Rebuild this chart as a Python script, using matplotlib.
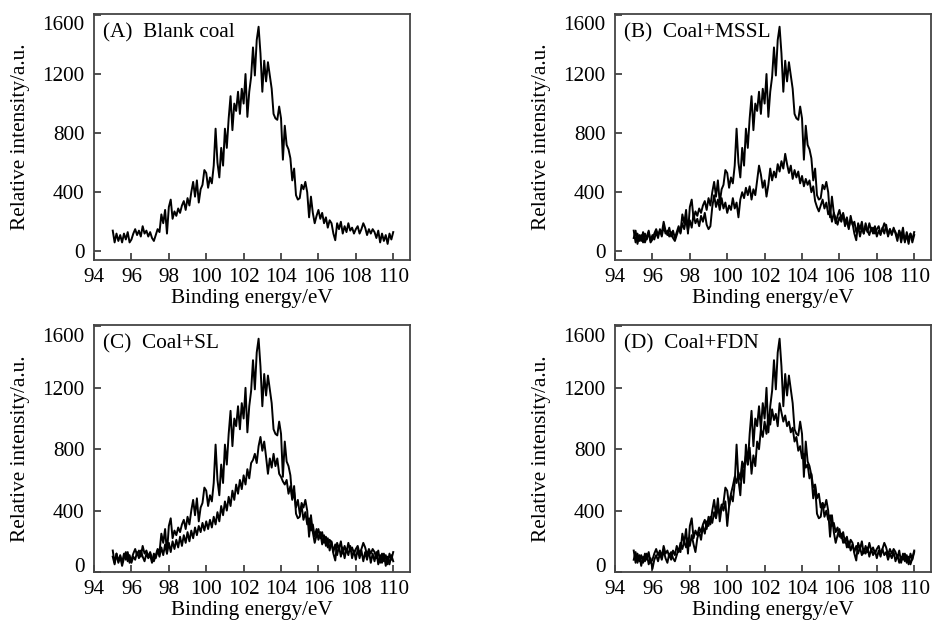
import numpy as np
import matplotlib
matplotlib.use("Agg")
import matplotlib.pyplot as plt
import matplotlib.transforms as mtransforms

plt.rcParams["font.family"] = ["Liberation Serif", "DejaVu Serif"]

# binding energy grid (eV), 0.1 eV step from 95.0 to 110.0
energy = np.round(np.arange(950, 1101) / 10.0, 1)

# 1. blank coal (appears in every panel)
blank_coal = [
    140, 60, 120, 70, 110, 60, 120, 80, 130, 60,
    80, 120, 150, 110, 140, 100, 170, 120, 140, 100,
    130, 90, 70, 110, 150, 130, 250, 190, 280, 120,
    300, 350, 220, 270, 240, 290, 260, 310, 340, 280,
    360, 310, 400, 470, 370, 480, 330, 420, 450, 550,
    530, 430, 500, 460, 580, 830, 600, 500, 700, 580,
    830, 700, 900, 1050, 820, 1000, 950, 1080, 930, 1100,
    1000, 1200, 910, 1080, 1180, 1380, 1190, 1430, 1520, 1340,
    1080, 1290, 1150, 1280, 1190, 1100, 930, 900, 890, 980,
    900, 620, 850, 720, 690, 630, 480, 560, 380, 350,
    360, 450, 420, 470, 400, 230, 370, 260, 190, 240,
    280, 220, 260, 190, 230, 160, 210, 190, 120, 75,
    190, 150, 200, 120, 170, 130, 190, 140, 160, 120,
    150, 170, 120, 150, 190, 160, 110, 150, 120, 150,
    130, 90, 140, 60, 120, 70, 110, 50, 120, 80,
    130,
]

# 2. coal + MSSL
coal_mssl = [
    90, 140, 50, 110, 70, 130, 60, 100, 140, 70,
    110, 80, 130, 90, 150, 120, 200, 140, 110, 160,
    100, 140, 90, 130, 170, 120, 190, 150, 220, 140,
    210, 160, 250, 190, 220, 170, 240, 200, 260, 180,
    150, 170, 300, 380, 300, 350, 280, 360, 290, 330,
    260, 310, 280, 360, 290, 330, 230, 350, 400, 360,
    430, 380, 440, 350, 420, 380, 480, 580, 520, 430,
    480, 370, 450, 560, 480, 540, 500, 590, 540, 610,
    560, 660, 590, 530, 580, 490, 550, 500, 540, 460,
    510, 440, 490, 450, 480, 400, 440, 340, 300, 270,
    310, 350, 290, 330, 250, 280, 200, 260, 220, 180,
    230, 200, 250, 170, 210, 150, 240, 180, 200, 130,
    170, 100, 160, 120, 190, 140, 110, 160, 120, 170,
    100, 140, 110, 160, 120, 180, 100, 150, 110, 160,
    120, 70, 140, 100, 160, 60, 130, 80, 120, 60,
    110,
]

# 3. coal + SL
coal_sl = [
    100, 50, 120, 60, 100, 40, 90, 130, 70, 110,
    60, 100, 80, 130, 90, 140, 100, 70, 120, 90,
    110, 60, 120, 90, 140, 100, 160, 110, 180, 120,
    190, 130, 200, 150, 210, 160, 230, 170, 240, 190,
    260, 200, 270, 220, 290, 240, 300, 260, 320, 270,
    330, 280, 340, 290, 360, 310, 390, 330, 430, 370,
    460, 400, 490, 430, 530, 470, 570, 510, 600, 540,
    630, 570, 670, 610, 710, 730, 770, 710, 820, 880,
    790, 850, 750, 640, 740, 680, 770, 690, 740, 640,
    620, 590, 570, 600, 510, 560, 470, 520, 420, 470,
    380, 430, 340, 390, 310, 350, 270, 310, 230, 280,
    210, 260, 180, 240, 170, 220, 140, 200, 130, 180,
    110, 170, 100, 160, 90, 150, 110, 170, 90, 140,
    80, 150, 90, 140, 70, 130, 80, 140, 60, 120,
    70, 130, 50, 110, 60, 120, 40, 100, 50, 110,
    70,
]

# 4. coal + FDN
coal_fdn = [
    80, 130, 60, 110, 40, 100, 70, 120, 50, 90,
    20, 80, 110, 70, 120, 80, 140, 90, 60, 120,
    80, 140, 110, 170, 130, 190, 150, 200, 160, 220,
    170, 240, 180, 130, 220, 260, 210, 300, 250, 330,
    300, 360, 320, 390, 350, 420, 380, 440, 400, 460,
    300, 430, 510, 560, 620, 580, 650, 600, 720, 680,
    760, 700, 810, 640, 760, 690, 850, 800, 930, 880,
    980, 900, 1020, 960, 1060, 990, 1030, 950, 1100, 1040,
    980, 1020, 950, 980, 910, 940, 850, 880, 790, 820,
    740, 770, 680, 700, 610, 640, 550, 570, 480, 510,
    420, 450, 360, 400, 340, 370, 300, 320, 260, 290,
    230, 250, 190, 220, 160, 200, 140, 180, 130, 170,
    120, 160, 110, 150, 120, 160, 100, 150, 110, 140,
    90, 140, 100, 150, 110, 130, 80, 120, 90, 130,
    70, 110, 60, 100, 80, 120, 60, 100, 50, 90,
    140,
]

panels = [
    ("(A)  Blank coal", [blank_coal], [0.1008, 0.5833, 0.3387, 0.3942], (-59, 1606)),
    ("(B)  Coal+MSSL", [blank_coal, coal_mssl], [0.6592, 0.5833, 0.3387, 0.3942], (-59, 1606)),
    ("(C)  Coal+SL", [blank_coal, coal_sl], [0.1008, 0.0833, 0.3387, 0.3958], (0, 1609)),
    ("(D)  Coal+FDN", [blank_coal, coal_fdn], [0.6592, 0.0833, 0.3387, 0.3958], (0, 1609)),
]

fs = 15.3
fig = plt.figure(figsize=(9.33, 6.24), dpi=100)

for label, series, rect, ylim in panels:
    ax = fig.add_axes(rect)
    for s in series:
        ax.plot(energy, s, color="black", lw=1.4)
    ax.set_xlim(94, 110.9)
    ax.set_ylim(*ylim)
    ax.set_xticks(np.arange(94, 111, 2))
    ax.set_yticks([0, 400, 800, 1200, 1600])
    ax.tick_params(direction="in", length=5, width=1.2, labelsize=fs,
                   top=False, right=False, color="#333333")
    ax.tick_params(axis="x", pad=6)
    ax.tick_params(axis="y", pad=7)
    for sp in ax.spines.values():
        sp.set_linewidth(1.3)
        sp.set_color("#444444")
    ax.set_xlabel("Binding energy/eV", fontsize=fs, labelpad=1)
    ax.set_ylabel("Relative intensity/a.u.", fontsize=fs, labelpad=9)
    ax.text(0.028, 0.925, label, transform=ax.transAxes, fontsize=fs,
            ha="left", va="center")

    # end labels sit a little inside the frame, as in the original figure
    yticks = ax.yaxis.get_major_ticks()
    down = mtransforms.ScaledTranslation(0, -6 / 72, fig.dpi_scale_trans)
    yticks[-1].label1.set_transform(yticks[-1].label1.get_transform() + down)
    if ylim[0] == 0:
        up = mtransforms.ScaledTranslation(0, 5 / 72, fig.dpi_scale_trans)
        yticks[0].label1.set_transform(yticks[0].label1.get_transform() + up)

fig.savefig("out.png", dpi=100)
